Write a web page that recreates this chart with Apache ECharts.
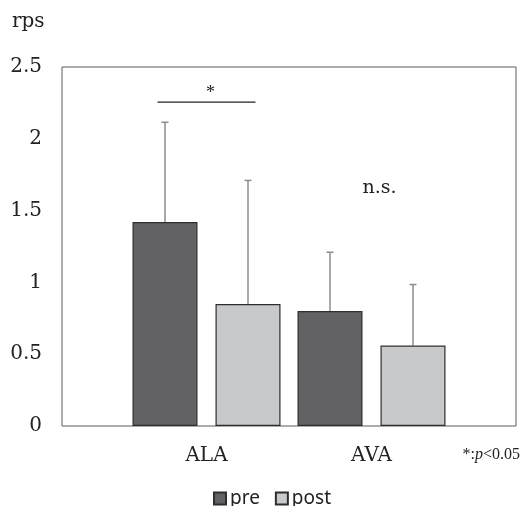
<!DOCTYPE html>
<html><head><meta charset="utf-8">
<script src="https://cdn.jsdelivr.net/npm/echarts@6/dist/echarts.min.js"></script>
<style>html,body{margin:0;padding:0;background:#fff}#c{width:522px;height:506px}</style>
</head><body><div id="c"></div>
<script>
// ---- data ----
var categories = ['ALA', 'AVA'];
var preMean = [1.42, 0.80];
var postMean = [0.85, 0.56];
var preErrTop = [2.115, 1.21];
var postErrTop = [1.71, 0.985];
var yTicks = [0, 0.5, 1, 1.5, 2, 2.5];
var sigBracket = [{cat: 0, y: 2.255, star: 2.33, text: '*'}];
var nsLabel = [{cat: 1, y: 1.66, text: 'n.s.'}];

var SERIF = '"DejaVu Serif", "Liberation Serif", serif';
var SERIF2 = '"Liberation Serif", serif';
var SANS = '"Noto Sans", "Open Sans", sans-serif';
var BAR_W = 65, BAR_GAP = 18;
var off = (BAR_W + BAR_GAP) / 2;

function errSeries(name, tops, sign) {
  return {
    type: 'custom', xAxisIndex: 1, yAxisIndex: 1, z: 1, silent: true,
    data: tops.map(function (t, i) { return [i, t]; }),
    renderItem: function (params, api) {
      var i = api.value(0);
      var base = sign < 0 ? preMean[i] : postMean[i];
      var top = api.coord([i, api.value(1)]);
      var bot = api.coord([i, base]);
      var x = top[0] + sign * off;
      var st = {stroke: '#8c8c8c', lineWidth: 1.5};
      return {type: 'group', children: [
        {type: 'line', shape: {x1: x, y1: top[1], x2: x, y2: bot[1]}, style: st},
        {type: 'line', shape: {x1: x - 3.5, y1: top[1], x2: x + 3.5, y2: top[1]}, style: st}
      ]};
    }
  };
}

var option = {
  animation: false,
  title: {text: 'rps', left: 7, top: 7, textStyle: {fontFamily: SERIF, fontWeight: 'normal', fontSize: 20, color: '#222'}},
  grid: [
    {left: 62, right: 6, top: 67, bottom: 80, show: true, borderColor: '#5a5a5a', borderWidth: 1, backgroundColor: 'transparent'},
    {left: 124, right: 68, top: 67, bottom: 80}
  ],
  legend: {
    top: 484, left: 208, itemWidth: 12, itemHeight: 12, itemGap: 15, icon: 'rect',
    textStyle: {fontFamily: SANS, fontSize: 19, color: '#222', padding: [0, 0, 0, -1]},
    data: ['pre', 'post']
  },
  xAxis: [
    {gridIndex: 0, type: 'category', data: categories, show: false},
    {gridIndex: 1, type: 'category', data: categories,
     axisLine: {show: false}, axisTick: {show: false},
     axisLabel: {fontFamily: SERIF, fontSize: 20, color: '#222', margin: 20}}
  ],
  yAxis: [
    {gridIndex: 0, type: 'value', min: 0, max: 2.5, interval: 0.5,
     axisLine: {show: false}, axisTick: {show: false}, splitLine: {show: false},
     axisLabel: {fontFamily: SERIF, fontSize: 20, color: '#222', margin: 20,
       formatter: function (v) { return yTicks.indexOf(v) >= 0 ? String(v) : ''; }}},
    {gridIndex: 1, type: 'value', min: 0, max: 2.5, interval: 0.5, show: false, splitLine: {show: false}}
  ],
  series: [
    {name: 'pre', type: 'bar', xAxisIndex: 1, yAxisIndex: 1, data: preMean, barWidth: BAR_W,
     barGap: (BAR_GAP / BAR_W * 100) + '%', z: 2,
     itemStyle: {color: '#626264', borderColor: '#2e2e2e', borderWidth: 1.2}},
    {name: 'post', type: 'bar', xAxisIndex: 1, yAxisIndex: 1, data: postMean, barWidth: BAR_W, z: 2,
     itemStyle: {color: '#c8c9cb', borderColor: '#2e2e2e', borderWidth: 1.2}},
    errSeries('preErr', preErrTop, -1),
    errSeries('postErr', postErrTop, 1),
    {type: 'custom', xAxisIndex: 1, yAxisIndex: 1, silent: true, z: 3,
     data: sigBracket.map(function (d) { return [d.cat, d.y, d.star]; }),
     renderItem: function (params, api) {
       var c = api.coord([api.value(0), api.value(1)]);
       var s = api.coord([api.value(0), api.value(2)]);
       var half = off + 7.5;
       return {type: 'group', children: [
         {type: 'line', shape: {x1: c[0] - half, y1: c[1], x2: c[0] + half, y2: c[1]}, style: {stroke: '#222', lineWidth: 1.3}},
         {type: 'text', style: {text: sigBracket[params.dataIndex].text, x: s[0] + 4, y: s[1] + 2,
           align: 'center', verticalAlign: 'middle', font: '18px ' + SERIF2, fill: '#222'}}
       ]};
     }},
    {type: 'custom', xAxisIndex: 1, yAxisIndex: 1, silent: true, z: 3,
     data: nsLabel.map(function (d) { return [d.cat, d.y]; }),
     renderItem: function (params, api) {
       var c = api.coord([api.value(0), api.value(1)]);
       return {type: 'text', style: {text: nsLabel[params.dataIndex].text, x: c[0] + 8, y: c[1],
         align: 'center', verticalAlign: 'middle', font: '19px ' + SERIF, fill: '#222'}};
     }}
  ],
  graphic: [{
    type: 'text', right: 2, top: 447,
    style: {
      text: '{a|*:}{b|p}{a|<0.05}',
      rich: {
        a: {fontFamily: SERIF2, fontSize: 16, fill: '#222'},
        b: {fontFamily: SERIF2, fontSize: 16, fontStyle: 'italic', fill: '#222'}
      }
    }
  }]
};
var chart = echarts.init(document.getElementById('c'));
chart.setOption(option);
</script></body></html>
